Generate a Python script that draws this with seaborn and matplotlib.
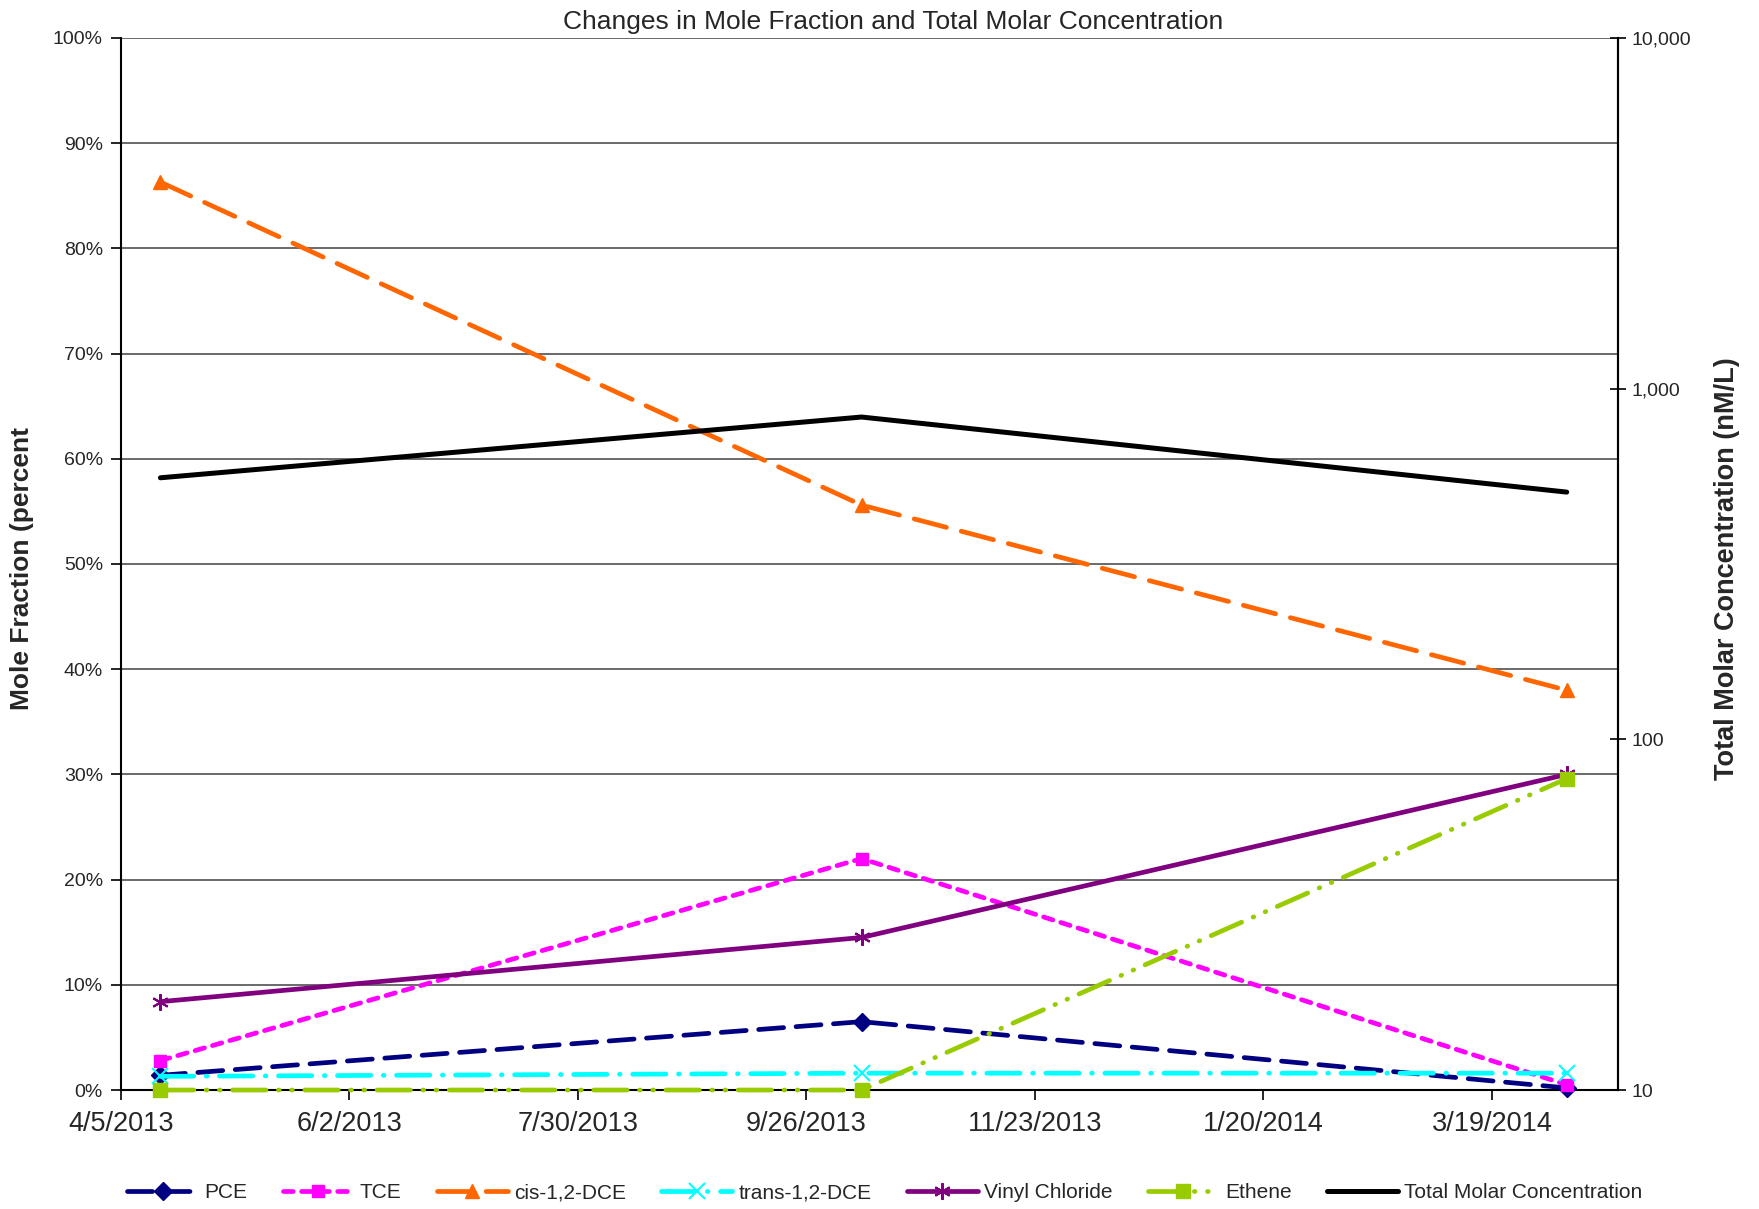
import numpy as np
import pandas as pd
import matplotlib
matplotlib.use("Agg")
import matplotlib.pyplot as plt
import matplotlib.dates as mdates
from matplotlib.ticker import FuncFormatter, FixedLocator, NullLocator
import seaborn as sns

# ---------------- data ----------------
dates = pd.to_datetime(["2013-04-15", "2013-10-10", "2014-04-07"])
pce = [1.4, 6.5, 0.2]
tce = [2.8, 22.0, 0.5]
cis_dce = [86.3, 55.6, 38.0]
trans_dce = [1.3, 1.6, 1.6]
vinyl_chloride = [8.4, 14.5, 30.0]
ethene = [0.0, 0.0, 29.6]
total_molar = [557, 830, 507]

x_ticks = pd.date_range("2013-04-05", periods=7, freq="58D")
title = "Changes in Mole Fraction and Total Molar Concentration"
left_label = "Mole Fraction (percent"
right_label = "Total Molar Concentration (nM/L)"

# ---------------- style ----------------
sns.set_theme(style="white")
plt.rcParams["font.family"] = ["Liberation Sans", "DejaVu Sans"]
plt.rcParams["lines.scale_dashes"] = False

fig = plt.figure(figsize=(17.59, 12.09), dpi=100)
ax = fig.add_axes([0.0688, 0.0984, 0.851, 0.8702])

series = [
    ("PCE", pce, "#000080", "D", 9, (0, (18, 9))),
    ("TCE", tce, "#FF00FF", "s", 9, (0, (7, 6))),
    ("cis-1,2-DCE", cis_dce, "#FF6600", "^", 10, (0, (24, 11))),
    ("trans-1,2-DCE", trans_dce, "#00FFFF", "x", 11, (0, (24, 9, 0.5, 9))),
    ("Vinyl Chloride", vinyl_chloride, "#800080", (6, 2, 0), 12, "solid"),
    ("Ethene", ethene, "#99CC00", "s", 10, (0, (24, 9, 0.5, 9, 0.5, 9))),
]

handles = []
for name, vals, col, mk, ms, ls in series:
    df = pd.DataFrame({"date": dates, "value": vals})
    sns.lineplot(data=df, x="date", y="value", ax=ax, color=col, marker=mk,
                 markersize=ms, linewidth=3.4, markeredgecolor=col,
                 markeredgewidth=1.5 if mk in ("x", (6, 2, 0)) else 1,
                 markerfacecolor=col, legend=False, zorder=3)
    ln = ax.lines[-1]
    ln.set_linestyle(ls)
    ln.set_dash_capstyle("round")
    ln.set_solid_capstyle("round")
    ln.set_clip_on(False)
    handles.append(ln)

ax.set_ylim(0, 100)
ax.set_yticks(np.arange(0, 101, 10))
ax.yaxis.set_major_formatter(FuncFormatter(lambda v, p: f"{v:.0f}%"))
ax.set_xlim(pd.Timestamp("2013-04-05"), pd.Timestamp("2014-04-20"))
ax.xaxis.set_major_locator(FixedLocator(mdates.date2num(x_ticks)))
ax.xaxis.set_major_formatter(FuncFormatter(
    lambda v, p: (lambda d: f"{d.month}/{d.day}/{d.year}")(mdates.num2date(v))))
ax.set_xlabel("")
ax.set_ylabel("")
ax.grid(axis="y", color="#505050", linewidth=1.2)
ax.grid(axis="x", visible=False)
ax.set_axisbelow(True)

ax.spines["top"].set_visible(False)
for s in ["left", "bottom", "right"]:
    ax.spines[s].set_color("black")
    ax.spines[s].set_linewidth(1.5)

ax.tick_params(axis="y", which="major", direction="out", length=7, width=1.2,
               color="black", labelsize=14, pad=6, left=True)
ax.tick_params(axis="x", which="major", direction="out", length=7, width=1.2,
               color="black", pad=8, bottom=True, labelsize=19.5)

# right axis
ax2 = ax.twinx()
tot_df = pd.DataFrame({"date": dates, "total": total_molar})
sns.lineplot(data=tot_df, x="date", y="total", ax=ax2, color="black",
             linewidth=3.6, legend=False)
tot_line = ax2.lines[-1]
tot_line.set_solid_capstyle("round")
handles.append(tot_line)
ax2.set_yscale("log")
ax2.set_ylim(10, 10000)
ax2.yaxis.set_major_locator(FixedLocator([10, 100, 1000, 10000]))
ax2.yaxis.set_minor_locator(NullLocator())
ax2.yaxis.set_major_formatter(FuncFormatter(lambda v, p: f"{v:,.0f}"))
ax2.set_ylabel("")
ax2.set_xlabel("")
ax2.grid(False)
for s in ["top", "left", "bottom"]:
    ax2.spines[s].set_visible(False)
ax2.spines["right"].set_color("black")
ax2.spines["right"].set_linewidth(1.5)
ax2.tick_params(axis="y", which="major", direction="inout", length=12, width=1.2,
                color="black", labelsize=14, pad=4, right=True)

# labels
fig.text(0.5075, 0.982, title, ha="center", va="center", fontsize=19)
fig.text(0.0125, 0.530, left_label, rotation=90, ha="center", va="center",
         fontsize=19, fontweight="bold")
fig.text(0.982, 0.530, right_label, rotation=90, ha="center", va="center",
         fontsize=19.5, fontweight="bold")

labels = ["PCE", "TCE", "cis-1,2-DCE", "trans-1,2-DCE", "Vinyl Chloride",
          "Ethene", "Total Molar Concentration"]
leg = fig.legend(handles, labels, loc="center", bbox_to_anchor=(0.503, 0.0135),
                 ncol=7, frameon=False, handlelength=3.4, numpoints=1,
                 columnspacing=1.7, handletextpad=0.3,
                 prop={"size": 15})

fig.savefig("out.png", dpi=100)
